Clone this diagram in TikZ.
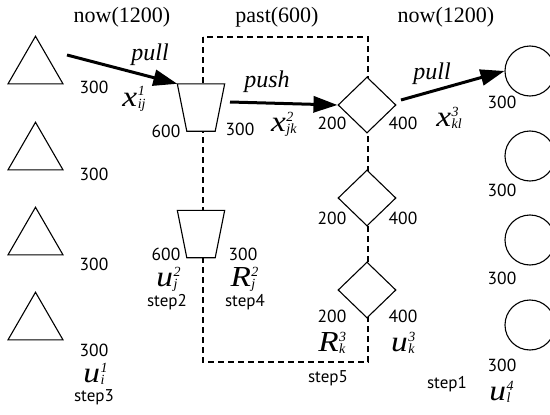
\documentclass[tikz,border=0pt]{standalone}
\usepackage{fontspec}
\usepackage{graphicx}
\setmainfont{Liberation Serif}
\newfontfamily\numfont{PT Sans}
\usetikzlibrary{shapes.geometric,arrows.meta}
\newcommand\symb[3]{\scalebox{1.15}[1]{\textit{#1}}\kern0.5pt\rlap{\raisebox{10pt}{\fontsize{14}{14}\selectfont\textit{#3}}}\raisebox{-2.5pt}{\fontsize{14}{14}\selectfont\textit{#2}}}
\tikzset{
  tri/.style={regular polygon, regular polygon sides=3, minimum size=63.5pt, inner sep=0pt, draw, line width=1.1pt, fill=white},
  trapbox/.style={rectangle, minimum width=47pt, minimum height=47pt, inner sep=0pt},
  trapline/.style={draw, line width=1.1pt, fill=white, line join=miter},
  dia/.style={diamond, minimum width=58pt, minimum height=56pt, inner sep=0pt, draw, line width=1.1pt, fill=white},
  circ/.style={circle, minimum size=50pt, inner sep=0pt, draw, line width=1.1pt, fill=white},
  title/.style={font=\fontsize{22}{22}\selectfont, inner sep=0pt},
  num/.style={font=\numfont\fontsize{17.5}{17.5}\selectfont, inner sep=0pt},
  steplab/.style={font=\numfont\fontsize{17}{17}\selectfont, inner sep=0pt},
  verb/.style={font=\itshape\fontsize{24}{24}\selectfont, inner sep=0pt},
  sym/.style={font=\fontsize{29}{29}\selectfont, inner sep=0pt, anchor=base},
  flow/.style={line width=3pt, -{Triangle[length=24pt,width=16pt]}},
  frame/.style={line width=1.3pt, dash pattern=on 6pt off 4pt},
}
\begin{document}
\begin{tikzpicture}[x=1pt,y=-1pt]
\useasboundingbox (0,0) rectangle (550,415);
\clip (0,0) rectangle (550,415);
% titles
\node[title] (t1) at (122,17) {now(1200)};
\node[title] (t2) at (277,17) {past(600)};
\node[title] (t3) at (446,17) {now(1200)};
% dashed frame
\coordinate (fa) at (203,37);
\coordinate (fb) at (368,362);
\draw[frame] (fa) rectangle (fb);
% triangles
\node[tri] (a1) at (35.5,68) {};
\node[tri] (a2) at (35.5,154) {};
\node[tri] (a3) at (35.5,239) {};
\node[tri] (a4) at (35.5,324) {};
\node[num] (na1) at (94,87) {300};
\node[num] (na2) at (94,174) {300};
\node[num] (na3) at (94,264) {300};
\node[num] (na4) at (94,350) {300};
\node[sym] (ua) at (94,382) {\symb{u}{i}{1}};
\node[steplab] (s3) at (94,397) {step3};
% trapezoids
\node[trapbox] (b1) at (201,107.5) {};
\node[trapbox] (b2) at (201,234) {};
\foreach \b in {b1,b2}{
  \path[trapline] (\b.north west) -- (\b.north east) -- ([xshift=-9.5pt]\b.south east) -- ([xshift=9.5pt]\b.south west) -- cycle;
}
\node[num] (nb1l) at (166,131) {600};
\node[num] (nb1r) at (240,129) {300};
\node[num] (nb2l) at (166,254) {600};
\node[num] (nb2r) at (243,254) {300};
\node[sym] (ub) at (167,286) {\symb{u}{j}{2}};
\node[sym] (rb) at (243,286) {\symb{R}{j}{2}};
\node[steplab] (s2) at (167,302) {step2};
\node[steplab] (s4) at (245,302) {step4};
% diamonds
\node[dia] (c1) at (367,105) {};
\node[dia] (c2) at (367,198) {};
\node[dia] (c3) at (367,290) {};
\node[num] (nc1l) at (332,123) {200};
\node[num] (nc1r) at (403,123) {400};
\node[num] (nc2l) at (332,218) {200};
\node[num] (nc2r) at (403,218) {400};
\node[num] (nc3l) at (332,316) {200};
\node[num] (nc3r) at (403,316) {400};
\node[sym] (rc) at (332,351) {\symb{R}{k}{3}};
\node[sym] (uc) at (403,351) {\symb{u}{k}{3}};
\node[steplab] (s5) at (328,378) {step5};
% circles
\node[circ] (d1) at (530,71) {};
\node[circ] (d2) at (530,156) {};
\node[circ] (d3) at (530,240) {};
\node[circ] (d4) at (530,325) {};
\node[num] (nd1) at (502,102) {300};
\node[num] (nd2) at (502,190) {300};
\node[num] (nd3) at (502,278) {300};
\node[num] (nd4) at (502,365) {300};
\node[steplab] (s1) at (447,384) {step1};
\node[sym] (ud) at (500,400) {\symb{u}{l}{4}};
% arrows
\coordinate (p1s) at (67,55);
\draw[flow] (p1s) -- (b1.north west);
\node[verb] (l1) at (150,55) {pull};
\node[sym] (x1) at (134,106) {\symb{x}{ij}{1}};
\coordinate (p2s) at (230,102);
\draw[flow] (p2s) -- (c1.west);
\node[verb] (l2) at (267,82) {push};
\node[sym] (x2) at (284,131) {\symb{x}{jk}{2}};
\coordinate (p3s) at (401,100);
\draw[flow] (p3s) -- (d1.west);
\node[verb] (l3) at (432,74) {pull};
\node[sym] (x3) at (449,126) {\symb{x}{kl}{3}};
\end{tikzpicture}
\end{document}
